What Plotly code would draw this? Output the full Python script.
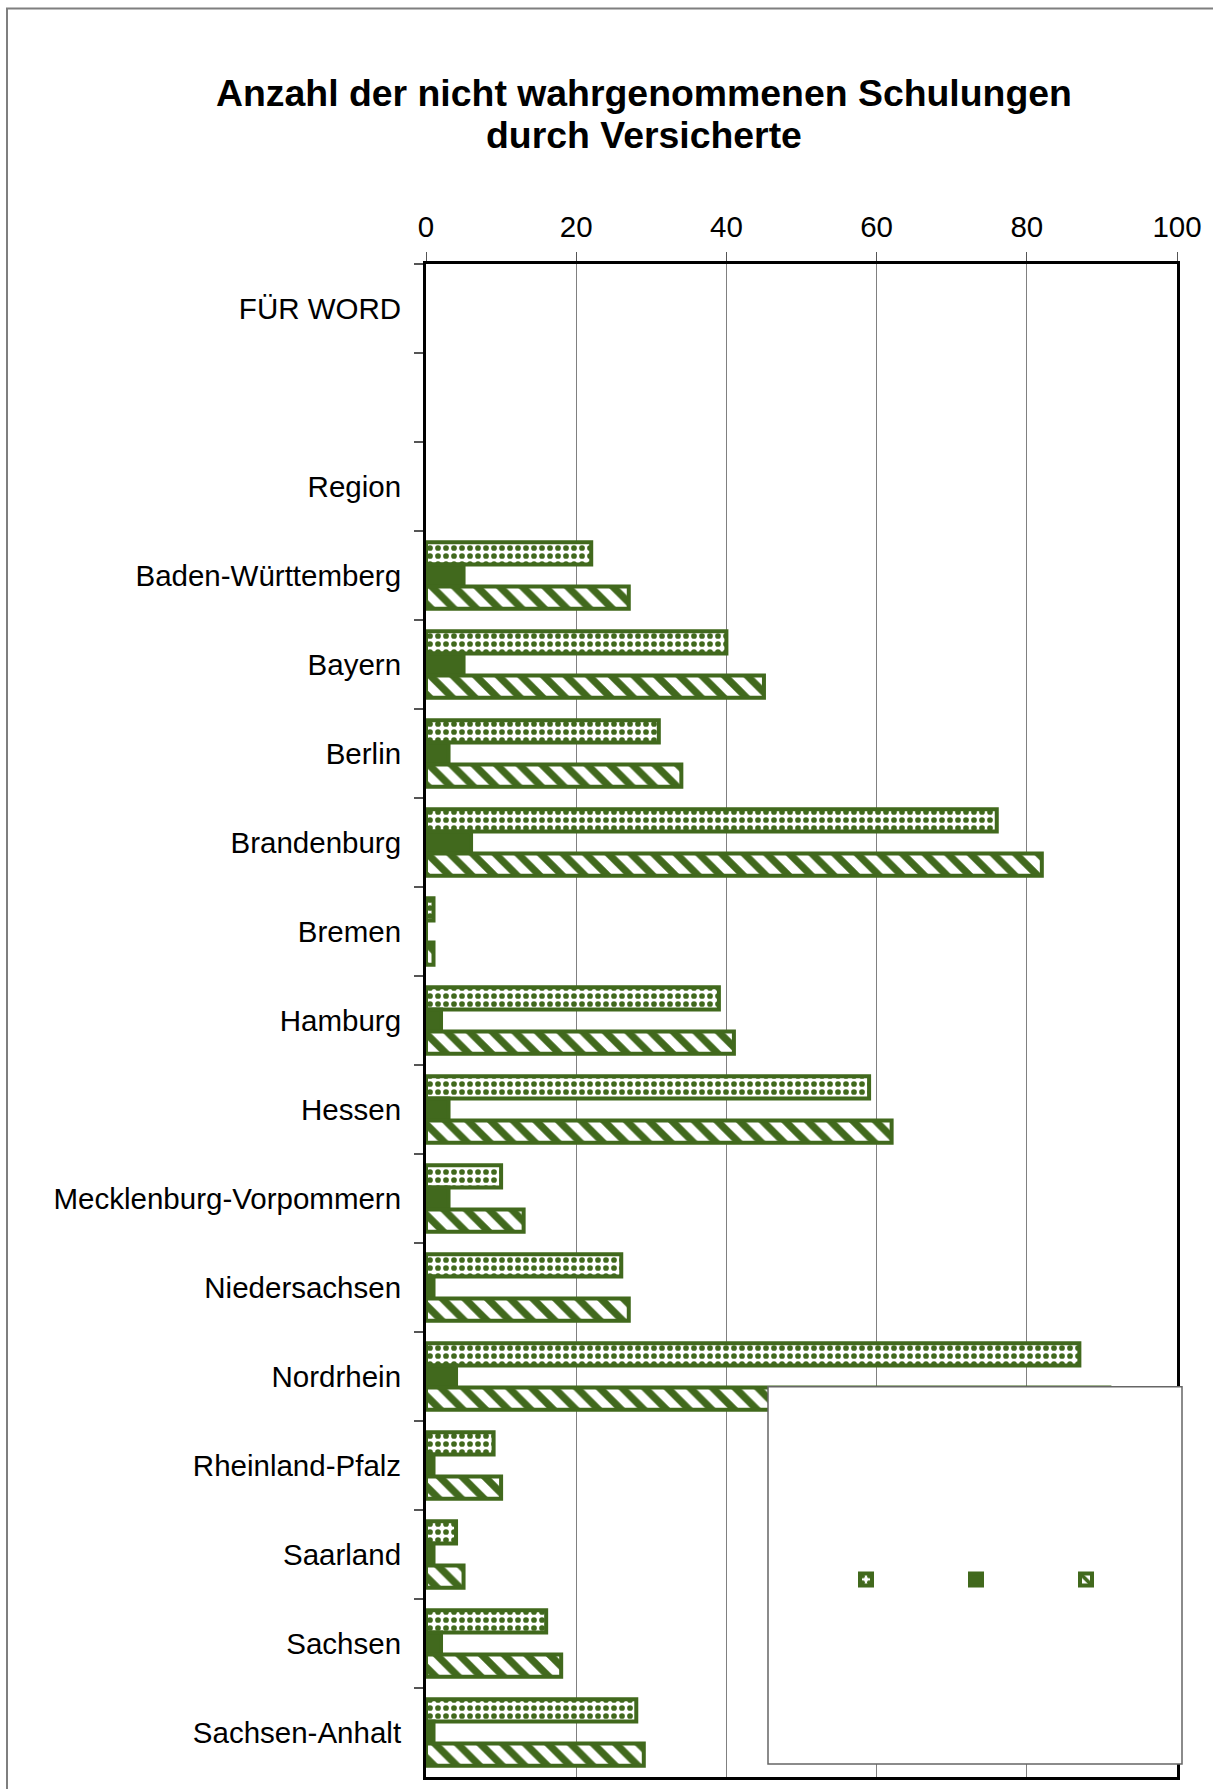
import plotly.graph_objects as go

# ---- data ----
regions = ["FÜR WORD", " ", "Region", "Baden-Württemberg", "Bayern", "Berlin",
           "Brandenburg", "Bremen", "Hamburg", "Hessen", "Mecklenburg-Vorpommern",
           "Niedersachsen", "Nordrhein", "Rheinland-Pfalz", "Saarland", "Sachsen",
           "Sachsen-Anhalt"]
series_checked = [None, None, None, 22, 40, 31, 76, 1, 39, 59, 10, 26, 87, 9, 4, 16, 28]
series_solid = [None, None, None, 5, 5, 3, 6, 0, 2, 3, 3, 1, 4, 1, 1, 2, 1]
series_hatched = [None, None, None, 27, 45, 34, 82, 1, 41, 62, 13, 27, 91, 10, 5, 18, 29]
x_ticks = [0, 20, 40, 60, 80, 100]
title_lines = ["Anzahl der nicht wahrgenommenen Schulungen", "durch Versicherte"]

GREEN = "#41691D"
FONT = "Liberation Sans, Arial, sans-serif"

W, H = 1213, 1789
L, R, T, B = 426, 1177, 264, 1780
pw, ph = R - L, B - T


def px_x(x):
    return (x - L) / pw


def px_y(y):
    return (B - y) / ph


fig = go.Figure()
fig.add_trace(go.Bar(
    y=regions, x=series_checked, orientation="h", name=" ",
    marker=dict(color="white", line=dict(color=GREEN, width=4),
                pattern=dict(shape=".", fgcolor=GREEN, bgcolor="white",
                             size=8, solidity=0.4, fillmode="replace")),
))
fig.add_trace(go.Bar(
    y=regions, x=series_solid, orientation="h", name=" ",
    marker=dict(color=GREEN, line=dict(color=GREEN, width=4)),
))
fig.add_trace(go.Bar(
    y=regions, x=series_hatched, orientation="h", name=" ",
    marker=dict(color="white", line=dict(color=GREEN, width=4),
                pattern=dict(shape="\\", fgcolor=GREEN, bgcolor="white",
                             size=16, solidity=0.45, fillmode="replace")),
))

shapes = [
    # outer chart frame
    dict(type="rect", xref="paper", yref="paper", layer="below",
         x0=px_x(7), x1=px_x(1240), y0=px_y(8), y1=px_y(1820),
         line=dict(color="#7f7f7f", width=2), fillcolor="rgba(0,0,0,0)"),
    # legend box
    dict(type="rect", xref="paper", yref="paper", layer="above",
         x0=px_x(768), x1=px_x(1182), y0=px_y(1767), y1=px_y(1389),
         line=dict(color="#666666", width=1.5), fillcolor="white"),
]

annotations = [
    dict(text="<b>%s</b>" % title_lines[0], xref="paper", yref="paper",
         x=px_x(644), y=px_y(92.9), xanchor="center", yanchor="middle",
         showarrow=False, font=dict(family=FONT, size=37.4, color="black")),
    dict(text="<b>%s</b>" % title_lines[1], xref="paper", yref="paper",
         x=px_x(644), y=px_y(134.9), xanchor="center", yanchor="middle",
         showarrow=False, font=dict(family=FONT, size=37.4, color="black")),
]

fig.update_layout(
    width=W, height=H,
    margin=dict(l=L, r=W - R, t=T, b=H - B, pad=0),
    paper_bgcolor="white", plot_bgcolor="white",
    font=dict(family=FONT, size=29.5, color="black"),
    barmode="group", bargap=0.255, bargroupgap=0,
    showlegend=True,
    legend=dict(orientation="h", x=px_x(846), y=px_y(1582),
                xanchor="left", yanchor="middle",
                bgcolor="rgba(0,0,0,0)", borderwidth=0,
                entrywidth=65, entrywidthmode="pixels",
                font=dict(size=12), traceorder="normal"),
    shapes=shapes, annotations=annotations,
    xaxis=dict(side="top", range=[0, 100], tickvals=x_ticks,
               ticktext=[str(v) for v in x_ticks],
               showgrid=True, gridcolor="#808080", gridwidth=1,
               zeroline=False, showline=True, linecolor="black", linewidth=3,
               mirror=True, ticks="outside", ticklen=9, tickcolor="#555555",
               tickwidth=1, tickfont=dict(size=29.5, family=FONT),
               ticklabelstandoff=3, fixedrange=True),
    yaxis=dict(type="category", categoryorder="array", categoryarray=regions,
               autorange="reversed", showgrid=False, zeroline=False,
               showline=True, linecolor="black", linewidth=3, mirror=True,
               ticks="outside", ticklen=9, tickcolor="#555555", tickwidth=1.5,
               tickson="boundaries",
               tickfont=dict(size=29.5, family=FONT),
               ticklabelstandoff=16, fixedrange=True),
)

fig.write_html("out.html")
